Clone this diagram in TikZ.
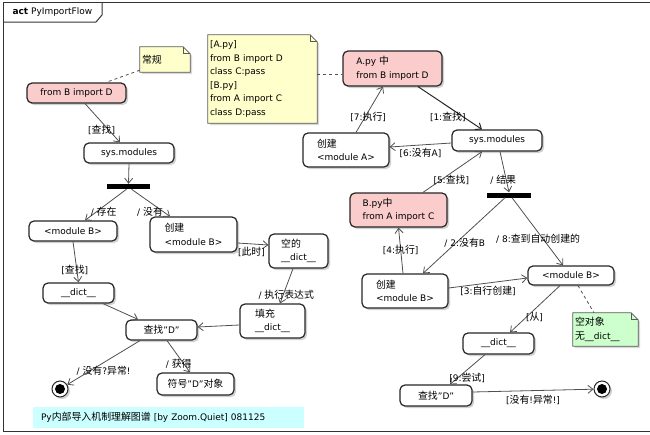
\documentclass[tikz,border=0pt]{standalone}
\usepackage{fontspec}
\setmainfont{DejaVu Sans}
\newfontfamily\zhfont[Scale=1.1]{Noto Sans CJK SC}
\usetikzlibrary{arrows.meta,shadows,backgrounds}
\definecolor{boxred}{RGB}{250,204,204}
\definecolor{noteyellow}{RGB}{255,255,204}
\definecolor{notegreen}{RGB}{204,255,204}
\definecolor{capcyan}{RGB}{204,255,255}
\definecolor{linegray}{RGB}{80,80,80}
\begin{document}
\begin{tikzpicture}[x=1pt,y=-1pt,font=\fontsize{9}{13.5}\selectfont,
  act/.style={draw=black!85, line width=1.2pt, rounded corners=5pt, fill=white, minimum height=20pt, inner sep=2pt, align=left,
    drop shadow={shadow xshift=2pt, shadow yshift=-2pt, opacity=.3, fill=black!60}},
  actred/.style={act, fill=boxred},
  bar/.style={fill=black, minimum width=43pt, minimum height=5pt, inner sep=0pt},
  final/.style={circle, draw=black!85, line width=1pt, fill=white, minimum size=16pt, inner sep=0pt,
    path picture={\fill[black] (path picture bounding box.center) circle (5pt);},
    drop shadow={shadow xshift=2pt, shadow yshift=-2pt, opacity=.3, fill=black!60}},
  note/.style={inner sep=2pt, align=left},
  flow/.style={draw=linegray, line width=.8pt, -{Straight Barb[length=5pt,width=8pt]}},
  notelink/.style={draw=linegray, line width=.8pt, dashed},
  lbl/.style={inner sep=0pt, font=\fontsize{9}{11}\selectfont}]
\useasboundingbox (0,0) rectangle (650,434);
\draw[black!80, line width=1pt] (660,2) -- (3,2) -- (3,431) -- (660,431);
\draw[black!80, line width=1pt] (3,22) -- (96,22) -- (102,15) -- (102,2);
\node[anchor=west] (title) at (9,12) {\textbf{act} PyImportFlow};

\node[note, text width=46pt, minimum height=25pt] (noteNormal) at (165,59.5) {{\zhfont 常规}};
\node[note, text width=105pt, minimum height=88pt] (noteAB) at (262.5,79) {[A.py]\\from B import D\\class C:pass\\{}[B.py]\\from A import C\\class D:pass};
\node[note, text width=61pt, minimum height=33pt] (noteEmpty) at (605.5,329.5) {{\zhfont 空对象}\\{\zhfont 无}\_\_dict\_\_};
\begin{scope}[on background layer]
\foreach \n/\c in {noteNormal/noteyellow, noteAB/noteyellow, noteEmpty/notegreen}{
  \draw[draw=black!65, line width=.8pt, fill=\c, drop shadow={shadow xshift=2pt, shadow yshift=-2pt, opacity=.25, fill=black!60}]
    (\n.south west) -- (\n.north west) -- ([xshift=-7pt]\n.north east) -- ([yshift=-7pt]\n.north east) -- (\n.south east) -- cycle;
  \draw[draw=black!65, line width=.8pt] ([xshift=-7pt]\n.north east) |- ([yshift=-7pt]\n.north east);
}
\end{scope}

\node[actred, minimum width=99pt] (fromBD) at (76.5,93) {from B import D};
\node[act, minimum width=90pt] (sysL) at (129,153) {sys.modules};
\node[bar] (barL) at (128.5,186.5) {};
\node[act, minimum width=88pt] (modBL) at (73,231) {<module B>};
\node[act, minimum width=87pt, minimum height=35pt] (newBL) at (193.5,234.5) {{\zhfont 创建}\\<module B>};
\node[act, minimum width=59pt, minimum height=34pt] (emptyDict) at (298.5,251) {{\zhfont 空的}\\\_\_dict\_\_};
\node[act, minimum width=71pt] (dictL) at (78.5,293) {\_\_dict\_\_};
\node[act, minimum width=65pt, minimum height=34pt] (fillDict) at (272.5,321) {{\zhfont 填充}\\\_\_dict\_\_};
\node[act, minimum width=71pt] (findDL) at (161.5,330) {{\zhfont 查找}"D"};
\node[final] (finalL) at (60,389) {};
\node[act, minimum width=77pt, minimum height=22pt] (symD) at (195.5,384) {{\zhfont 符号}"D"{\zhfont 对象}};
\node[fill=capcyan, text width=255pt, inner xsep=8pt, minimum height=21pt, align=left] (caption) at (168.5,417.5) {Py{\zhfont 内部导入机制理解图谱} [by Zoom.Quiet] 081125};

\node[actred, minimum width=99pt, minimum height=35pt] (AinA) at (392.5,68.5) {A.py {\zhfont 中}\\from B import D};
\node[act, minimum width=86pt, minimum height=34pt] (newA) at (346,150) {{\zhfont 创建}\\<module A>};
\node[act, minimum width=90pt, minimum height=21pt] (sysR) at (497,140.5) {sys.modules};
\node[actred, minimum width=97pt, minimum height=34pt] (BinB) at (398.5,210) {B.py{\zhfont 中}\\from A import C};
\node[bar, minimum width=44pt] (barR) at (509,195) {};
\node[act, minimum width=86pt, minimum height=34pt] (newBR) at (405,291) {{\zhfont 创建}\\<module B>};
\node[act, minimum width=86pt, minimum height=19pt] (modBR) at (571,275.5) {<module B>};
\node[act, minimum width=71pt, minimum height=21pt] (dictR) at (498.5,343.5) {\_\_dict\_\_};
\node[act, minimum width=72pt, minimum height=21pt] (findDR) at (436,395.5) {{\zhfont 查找}"D"};
\node[final] (finalR) at (602,389) {};

\draw[notelink] ([yshift=2pt]noteNormal.south west) -- ([xshift=29.5pt]fromBD.north);
\draw[notelink] ([yshift=5pt]noteAB.east) -- ([yshift=-5.5pt]AinA.west);
\draw[notelink] ([xshift=7pt]modBR.south) -- ([xshift=-11.5pt]noteEmpty.north);

\draw[flow] ([xshift=8.5pt]fromBD.south) -- node[lbl, pos=.675, xshift=-7pt] {[{\zhfont 查找}]} ([xshift=-9pt]sysL.north);
\draw[flow] (sysL.south) -- (barL.north);
\draw[flow] ([xshift=-2pt]barL.south) -- node[lbl, pos=.72, xshift=7pt] {/ {\zhfont 存在}} ([xshift=12pt]modBL.north);
\draw[flow] ([xshift=3pt]barL.south) -- node[lbl, pos=.82, xshift=-13pt] {/ {\zhfont 没有}} ([xshift=-23.5pt]newBL.north);
\draw[flow] ([yshift=-8.5pt]newBL.east) -- node[lbl, pos=.45, yshift=-8pt] {[{\zhfont 此时}]} ([yshift=6pt]emptyDict.west);
\draw[flow] (modBL.south) -- node[lbl, pos=.69, xshift=-2pt] {[{\zhfont 查找}]} (dictL.north);
\draw[flow] ([xshift=24.5pt]dictL.south) -- ([xshift=-23.5pt]findDL.north);
\draw[flow] ([xshift=-5.5pt]emptyDict.south) -- node[lbl, pos=.75, xshift=3pt] {/ {\zhfont 执行表达式}} ([xshift=7.5pt]fillDict.north);
\draw[flow] ([yshift=-4pt]fillDict.west) -- ([yshift=3pt]findDL.east);
\draw[flow] ([xshift=-21.5pt]findDL.south) -- node[lbl, pos=.5, yshift=-8pt] {/ {\zhfont 没有}?{\zhfont 异常}!} (finalL);
\draw[flow] ([xshift=5.5pt]findDL.south) -- node[lbl, pos=.73, xshift=-5pt] {/ {\zhfont 获得}} ([xshift=-5.5pt]symD.north);

\draw[flow, draw=black!85, line width=1pt] ([xshift=25.5pt]AinA.south) -- node[lbl, pos=.7, xshift=-15pt] {[1:{\zhfont 查找}]} ([xshift=-15pt]sysR.north);
\draw[flow] ([yshift=-2.5pt]sysR.west) -- node[lbl, pos=.5, yshift=-8pt] {[6:{\zhfont 没有}A]} ([yshift=3pt]newA.east);
\draw[flow] ([xshift=10pt]newA.north) -- node[lbl, pos=.34, xshift=3pt] {[7:{\zhfont 执行}]} ([xshift=-9.5pt]AinA.south);
\draw[flow] ([xshift=24.5pt]BinB.north) -- node[lbl, pos=.31, xshift=10pt] {[5:{\zhfont 查找}]} ([xshift=-15pt]sysR.south);
\draw[flow] ([xshift=3pt]sysR.south) -- node[lbl, pos=.69, xshift=-3pt] {/ {\zhfont 结果}} (barR.north);
\draw[flow] ([xshift=-4pt]barR.south) -- node[lbl, pos=.6, xshift=9pt] {/ 2:{\zhfont 没有}B} ([xshift=18pt]newBR.north);
\draw[flow] ([xshift=-2pt]newBR.north) -- node[lbl, pos=.51] {[4:{\zhfont 执行}]} (BinB.south);
\draw[flow] ([xshift=3pt]barR.south) -- node[lbl, pos=.61, xshift=-5pt] {/ 8:{\zhfont 查到自动创建的}} ([xshift=-8pt]modBR.north);
\draw[flow] ([yshift=3pt]newBR.east) -- node[lbl, pos=.5, yshift=-8pt] {[3:{\zhfont 自行创建}]} ([yshift=-2.5pt]modBR.west);
\draw[flow] ([xshift=-11pt]modBR.south) -- node[lbl, pos=.67, xshift=8pt] {[{\zhfont 从}]} ([xshift=11.5pt]dictR.north);
\draw[flow] ([xshift=-13.5pt]dictR.south) -- node[lbl, pos=.77, xshift=9pt] {[9:{\zhfont 尝试}]} ([xshift=14pt]findDR.north);
\draw[flow] ([yshift=3.5pt]findDR.east) -- node[lbl, pos=.5, yshift=-9pt] {[{\zhfont 没有}!{\zhfont 异常}!]} (finalR);
\end{tikzpicture}
\end{document}
